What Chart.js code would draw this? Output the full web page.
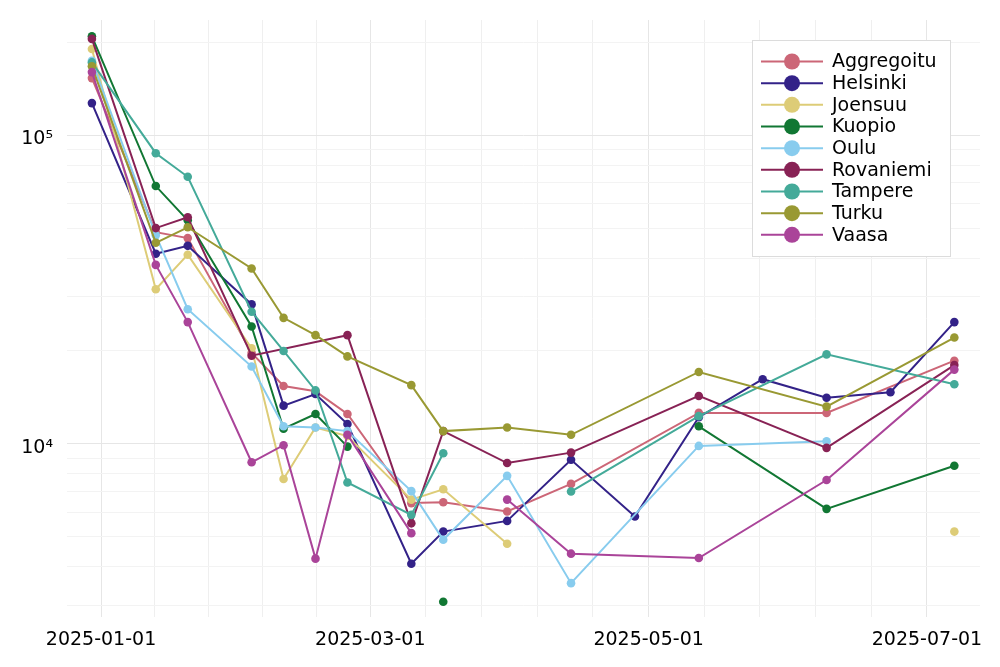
<!DOCTYPE html>
<html>
<head>
<meta charset="utf-8">
<script src="https://cdn.jsdelivr.net/npm/chart.js@4/dist/chart.umd.min.js"></script>
<style>
  html, body { margin: 0; padding: 0; background: #fff; }
  #wrap { width: 1000px; height: 667px; }
</style>
</head>
<body>
<div id="wrap"><canvas id="chart"></canvas></div>
<script>
// ── Data (weekly values, null = break in line) ─────────────
const SERIES_NAMES = ['Aggregoitu','Helsinki','Joensuu','Kuopio','Oulu','Rovaniemi','Tampere','Turku','Vaasa'];
const SERIES_COLORS = ['#CC6677','#332288','#DDCC77','#117733','#88CCEE','#882255','#44AA99','#999933','#AA4499'];

const DATES_AGG = ['2024-12-30','2025-01-13','2025-01-20','2025-02-03','2025-02-10','2025-02-17','2025-02-24','2025-03-10','2025-03-17','2025-03-31','2025-04-14','2025-05-12','2025-06-09','2025-07-07'];
const VALS_AGG  = [153000, 48500, 46400, 19700, 15400, 14800, 12500, 6430, 6470, 6040, 7420, 12600, 12600, 18600];

const DATES_HEL = ['2024-12-30','2025-01-13','2025-01-20','2025-02-03','2025-02-10','2025-02-17','2025-02-24','2025-03-10','2025-03-17','2025-03-31','2025-04-14','2025-04-28','2025-05-12','2025-05-26','2025-06-09','2025-06-23','2025-07-07'];
const VALS_HEL  = [127000, 41300, 43800, 28300, 13300, 14500, 11600, 4090, 5200, 5630, 8880, 5820, 12200, 16200, 14100, 14700, 24800];

const DATES_JOE = ['2024-12-30','2025-01-13','2025-01-20','2025-02-03','2025-02-10','2025-02-17','2025-02-24','2025-03-10','2025-03-17','2025-03-31','2025-05-15','2025-07-07'];
const VALS_JOE  = [190000, 31700, 41000, 20400, 7700, 11300, 10600, 6600, 7130, 4750, null, 5200];

const DATES_KUO = ['2024-12-30','2025-01-13','2025-01-20','2025-02-03','2025-02-10','2025-02-17','2025-02-24','2025-03-10','2025-03-17','2025-03-31','2025-05-12','2025-06-09','2025-07-07'];
const VALS_KUO  = [209000, 68400, 53000, 24000, 11200, 12500, 9800, null, 3080, null, 11400, 6160, 8500];

const DATES_OUL = ['2024-12-30','2025-01-13','2025-01-20','2025-02-03','2025-02-10','2025-02-17','2025-02-24','2025-03-10','2025-03-17','2025-03-31','2025-04-14','2025-05-12','2025-06-09'];
const VALS_OUL  = [174000, 47400, 27300, 17800, 11400, 11300, 11000, 7030, 4890, 7880, 3540, 9850, 10200];

const DATES_ROV = ['2024-12-30','2025-01-13','2025-01-20','2025-02-03','2025-02-24','2025-03-10','2025-03-17','2025-03-31','2025-04-14','2025-05-12','2025-06-09','2025-07-07'];
const VALS_ROV  = [205000, 50000, 54200, 19300, 22500, 5530, 11000, 8670, 9370, 14300, 9710, 18000];

const DATES_TAM = ['2024-12-30','2025-01-13','2025-01-20','2025-02-03','2025-02-10','2025-02-17','2025-02-24','2025-03-10','2025-03-17','2025-03-31','2025-04-14','2025-05-12','2025-06-09','2025-07-07'];
const VALS_TAM  = [172000, 87400, 73300, 26800, 20000, 14900, 7500, 5890, 9330, null, 7010, 12300, 19500, 15600];

const DATES_TUR = ['2024-12-30','2025-01-13','2025-01-20','2025-02-03','2025-02-10','2025-02-17','2025-02-24','2025-03-10','2025-03-17','2025-03-31','2025-04-14','2025-05-12','2025-06-09','2025-07-07'];
const VALS_TUR  = [167000, 44800, 50300, 37000, 25600, 22500, 19200, 15500, 11000, 11300, 10700, 17100, 13200, 22100];

const DATES_VAA = ['2024-12-30','2025-01-13','2025-01-20','2025-02-03','2025-02-10','2025-02-17','2025-02-24','2025-03-10','2025-03-17','2025-03-31','2025-04-14','2025-05-12','2025-06-09','2025-07-07'];
const VALS_VAA  = [160000, 38000, 24800, 8720, 9900, 4250, 10700, 5140, null, 6600, 4410, 4270, 7640, 17400];

const SERIES_DATES = [DATES_AGG, DATES_HEL, DATES_JOE, DATES_KUO, DATES_OUL, DATES_ROV, DATES_TAM, DATES_TUR, DATES_VAA];
const SERIES_VALS  = [VALS_AGG, VALS_HEL, VALS_JOE, VALS_KUO, VALS_OUL, VALS_ROV, VALS_TAM, VALS_TUR, VALS_VAA];

// ── Axes ───────────────────────────────────────────────────
const X_MAJOR_LABELS = ['2025-01-01','2025-03-01','2025-05-01','2025-07-01'];
const X_MIN_DATE = '2024-12-24T13:00';
const X_MAX_DATE = '2025-07-12T15:00';
const Y_MAJOR = [10000, 100000];
const Y_GRID  = [3000,4000,5000,6000,7000,8000,9000,10000,20000,30000,40000,50000,60000,70000,80000,90000,100000,200000];
const Y_MIN = 2750, Y_MAX = 236000;

const DAY = 86400000;
const T0 = Date.UTC(2025, 0, 1);
const toDay = s => (Date.parse(s.length > 10 ? s + 'Z' : s + 'T00:00Z') - T0) / DAY;
const dayLabel = d => new Date(T0 + Math.round(d) * DAY).toISOString().slice(0, 10);

const xMajor = X_MAJOR_LABELS.map(toDay);
const xTicks = [];
xMajor.forEach((d, i) => {
    xTicks.push({ value: d, major: true });
    if (i < xMajor.length - 1) {
        const step = (xMajor[i + 1] - d) / 5;
        for (let k = 1; k < 5; k++) xTicks.push({ value: d + k * step, major: false });
    }
});

const SUP = { '4': '\u2074', '5': '\u2075' };

// ── Legend drawn inside the plot ───────────────────────────
const legendBox = {
    id: 'legendBox',
    afterDraw(chart) {
        const ctx = chart.ctx;
        ctx.save();
        ctx.fillStyle = '#ffffff';
        ctx.strokeStyle = '#dcdcdc';
        ctx.lineWidth = 1;
        ctx.fillRect(752, 40, 198, 216);
        ctx.strokeRect(752.5, 40.5, 198, 216);
        ctx.font = '19px "DejaVu Sans"';
        ctx.textBaseline = 'middle';
        SERIES_NAMES.forEach((name, i) => {
            const y = 61.5 + i * 21.67;
            ctx.strokeStyle = SERIES_COLORS[i];
            ctx.lineWidth = 2;
            ctx.beginPath();
            ctx.moveTo(761, y);
            ctx.lineTo(823, y);
            ctx.stroke();
            ctx.fillStyle = SERIES_COLORS[i];
            ctx.beginPath();
            ctx.arc(792, y, 8, 0, Math.PI * 2);
            ctx.fill();
            ctx.fillStyle = '#000';
            ctx.fillText(name, 832, y + 1);
        });
        ctx.restore();
    }
};

const datasets = SERIES_NAMES.map((name, i) => ({
    label: name,
    data: SERIES_DATES[i].map((d, j) => ({ x: toDay(d), y: SERIES_VALS[i][j] })),
    borderColor: SERIES_COLORS[i],
    backgroundColor: SERIES_COLORS[i],
    borderWidth: 2,
    pointRadius: 4.3,
    pointBorderWidth: 0,
    pointBackgroundColor: SERIES_COLORS[i],
    tension: 0,
    spanGaps: false,
    order: SERIES_NAMES.length - 1 - i,
}));

new Chart(document.getElementById('chart').getContext('2d'), {
    type: 'line',
    data: { datasets },
    options: {
        responsive: true,
        maintainAspectRatio: false,
        animation: false,
        layout: { padding: { top: 20, right: 20, left: 0, bottom: 0 } },
        plugins: { legend: { display: false }, tooltip: { enabled: false } },
        scales: {
            x: {
                type: 'linear',
                min: toDay(X_MIN_DATE),
                max: toDay(X_MAX_DATE),
                afterBuildTicks: s => { s.ticks = xTicks.map(t => ({ ...t })); },
                afterFit: s => { s.height = 50; s.paddingLeft = 0; s.paddingRight = 0; },
                border: { display: false },
                grid: {
                    drawTicks: false,
                    color: c => (c.tick && c.tick.major) ? '#e6e6e6' : '#efefef',
                    lineWidth: 1,
                },
                ticks: {
                    autoSkip: false,
                    maxRotation: 0,
                    padding: 12,
                    color: '#000',
                    font: { family: 'DejaVu Sans', size: 19 },
                    callback: (v, idx, ticks) => ticks[idx].major ? dayLabel(v) : '',
                },
            },
            y: {
                type: 'logarithmic',
                min: Y_MIN,
                max: Y_MAX,
                afterBuildTicks: s => { s.ticks = Y_GRID.map(v => ({ value: v, major: Y_MAJOR.includes(v) })); },
                afterFit: s => { s.width = 67; s.paddingTop = 0; s.paddingBottom = 0; },
                border: { display: false },
                grid: {
                    drawTicks: false,
                    color: c => (c.tick && c.tick.major) ? '#e6e6e6' : '#f3f3f3',
                    lineWidth: 1,
                },
                ticks: {
                    autoSkip: false,
                    padding: 14,
                    labelOffset: 4,
                    color: '#000',
                    font: { family: 'DejaVu Sans', size: 19 },
                    callback: v => Y_MAJOR.includes(v) ? '10' + SUP[String(Math.round(Math.log10(v)))] : '',
                },
            },
        },
    },
    plugins: [legendBox],
});
</script>
</body>
</html>
